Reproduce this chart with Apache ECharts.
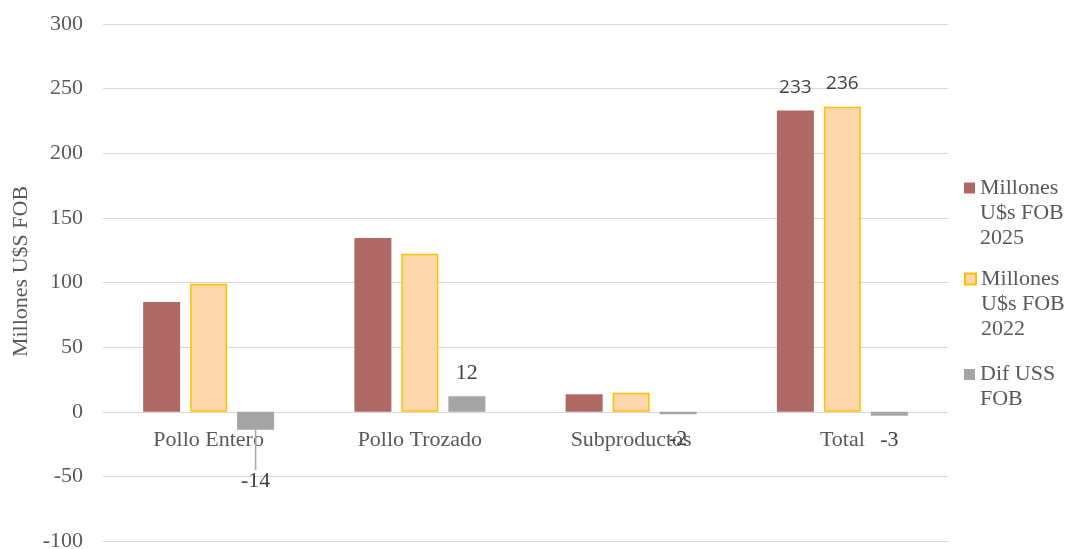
<!DOCTYPE html>
<html><head><meta charset="utf-8">
<script src="https://cdn.jsdelivr.net/npm/echarts@6/dist/echarts.min.js"></script>
<style>html,body{margin:0;padding:0;background:#fff}#c{width:1065px;height:549px}</style>
</head><body><div id="c"></div>
<script>
const categories = ['Pollo Entero', 'Pollo Trozado', 'Subproductos', 'Total'];
const seriesNames = ['Millones U$s FOB 2025', 'Millones U$s FOB 2022', 'Dif USS FOB'];
const legendLabels = ['\n\nMillones\nU$s FOB\n2025', '\n\nMillones\nU$s FOB\n2022', '\nDif USS\nFOB'];
const values2025 = [85, 134.5, 13.5, 233];
const values2022 = [99, 122.3, 14.7, 236];
const valuesDif = [-14, 12, -2, -3];
const yTicks = { min: -100, max: 300, interval: 50 };
const yAxisTitle = 'Millones U$S FOB';

const serif = '"Liberation Serif", "Times New Roman", serif';
const sans = '"Open Sans", "Liberation Sans", sans-serif';
const txt = '#595959';
const FS = 22;

const gridTop = 24, gridBottom = 8, H = 549;
const plotH = H - gridTop - gridBottom;
const zeroFromBottom = plotH * (0 - yTicks.min) / (yTicks.max - yTicks.min);

const chart = echarts.init(document.getElementById('c'));
const legendTops = [125.5, 216.5, 337];
chart.setOption({
  animation: false,
  grid: { left: 103, right: 117, top: gridTop, bottom: gridBottom, containLabel: false, outerBoundsMode: 'none' },
  legend: seriesNames.map((n, i) => ({
    orient: 'vertical', left: 964, top: legendTops[i], padding: 0,
    itemWidth: 11, itemHeight: 11, icon: 'rect',
    data: [{ name: n }],
    formatter: () => legendLabels[i],
    textStyle: { fontFamily: serif, fontSize: FS, lineHeight: 25, color: txt }
  })),
  xAxis: {
    type: 'category', data: categories, position: 'bottom', offset: -zeroFromBottom,
    axisLine: { onZero: false, lineStyle: { color: '#d9d9d9', width: 1 } },
    axisTick: { show: false },
    axisLabel: { fontFamily: serif, fontSize: FS, color: txt, margin: 17 }
  },
  yAxis: {
    type: 'value', min: yTicks.min, max: yTicks.max, interval: yTicks.interval,
    name: yAxisTitle, nameLocation: 'middle', nameGap: 70,
    nameTextStyle: { fontFamily: serif, fontSize: FS, color: txt, padding: [0, 0, 0, 22] },
    axisLine: { show: false }, axisTick: { show: false },
    axisLabel: { fontFamily: serif, fontSize: FS, color: txt, margin: 20 },
    splitLine: { lineStyle: { color: '#d9d9d9', width: 1 } }
  },
  series: [
    {
      name: seriesNames[0], type: 'bar', data: values2025.map((v, i) => ({
        value: v,
        label: i === 3 ? { show: true, position: 'top', distance: 14, fontFamily: sans, fontSize: 19, color: '#404040' } : { show: false }
      })),
      barWidth: 37, barGap: '27%',
      itemStyle: { color: '#af6965' }
    },
    {
      name: seriesNames[1], type: 'bar', data: values2022.map((v, i) => ({
        value: v,
        label: i === 3 ? { show: true, position: 'top', distance: 14, fontFamily: sans, fontSize: 19, color: '#404040' } : { show: false }
      })),
      barWidth: 37, barGap: '27%',
      itemStyle: { color: '#fcd7ab', borderColor: '#ffc000', borderWidth: 1.5 }
    },
    {
      name: seriesNames[2], type: 'bar', data: valuesDif.map((v, i) => ({
        value: v,
        label: { show: true, position: v >= 0 ? 'top' : 'bottom', distance: i === 0 ? 5 : (v >= 0 ? 12 : 14) },
        labelLine: { show: i === 0, lineStyle: { color: '#a5a5a5', width: 1.5 } }
      })),
      barWidth: 37, barGap: '27%',
      itemStyle: { color: '#a5a5a5' },
      label: { fontFamily: serif, fontSize: FS, color: '#404040' },
      labelLayout: (p) => p.dataIndex === 0 ? { dy: 35 } : {},
      labelLine: { show: false }
    }
  ]
});
</script></body></html>
